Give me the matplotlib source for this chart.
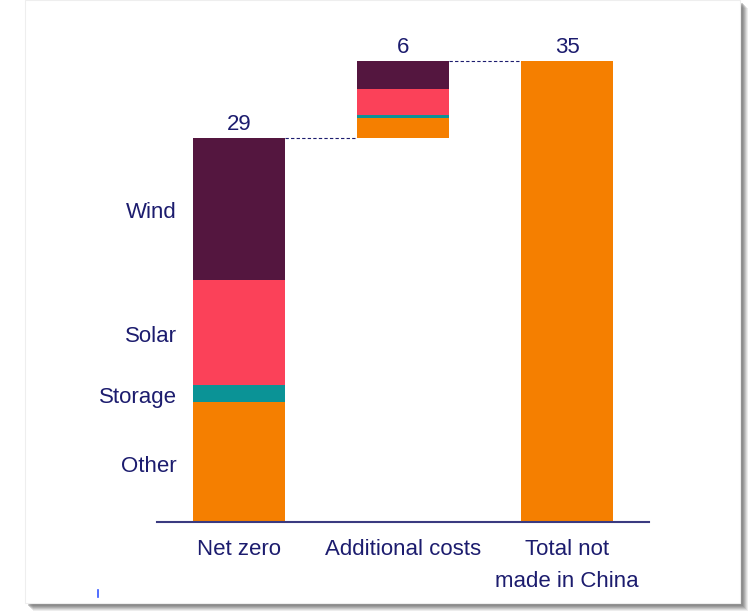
import matplotlib.pyplot as plt
from matplotlib.patches import Rectangle
from matplotlib.lines import Line2D

plt.rcParams['font.family'] = ['Liberation Sans', 'DejaVu Sans']

# Data
categories = ["Net zero", "Additional costs", "Total not\nmade in China"]
components = ["Other", "Storage", "Solar", "Wind"]
net_zero = [9.1, 1.3, 8.0, 10.8]
additional = [1.5, 0.2, 2.0, 2.1]
total_not_china = 35
value_labels = ["29", "6", "35"]

colors = ["#f57f00", "#0b9396", "#fb4159", "#54163f"]
navy = "#1c1c6e"

fig = plt.figure(figsize=(7.48, 6.13), dpi=100)
fig.patch.set_facecolor("white")

# card with a soft shadow
for i, a in enumerate([0.12, 0.15, 0.2, 0.25, 0.3, 0.35]):
    off = (8 - i) / 748
    fig.patches.append(Rectangle((0.0334 + off, 0.0163 - (8 - i) / 613), 0.9556, 0.9837,
                                 transform=fig.transFigure, facecolor="#707070",
                                 alpha=a, edgecolor="none", zorder=-10))
fig.patches.append(Rectangle((0.0334, 0.0163), 0.9556, 0.9837, transform=fig.transFigure,
                             facecolor="white", edgecolor="#eeeeee", lw=0.8, zorder=-5))

ax = fig.add_axes([0.21, 0.1485, 0.658, 0.786])
ax.set_facecolor("none")
w = 0.56

# Net zero stack
bottom = 0
for val, c, name in zip(net_zero, colors, components):
    ax.bar(0, val, w, bottom=bottom, color=c)
    ax.annotate(name, (-w / 2, bottom + val / 2), xytext=(-12, -3), textcoords="offset points",
                ha="right", va="center", fontsize=16, color=navy)
    bottom += val
nz_total = bottom

# Additional costs stack (floating)
bottom = nz_total
for val, c in zip(additional, colors):
    ax.bar(1, val, w, bottom=bottom, color=c)
    bottom += val

# Total
ax.bar(2, total_not_china, w, color=colors[0])

# value labels
tops = [nz_total, nz_total + sum(additional), total_not_china]
for x, t, lab in zip(range(3), tops, value_labels):
    ax.annotate(lab, (x, t), xytext=(0, 2), textcoords="offset points",
                ha="center", va="bottom", fontsize=16, color=navy)

# dashed connectors
ax.plot([w / 2, 1 - w / 2], [nz_total, nz_total], ls=(0, (3, 2)), lw=0.8, color=navy)
ax.plot([1 + w / 2, 2 - w / 2], [tops[1], tops[1]], ls=(0, (3, 2)), lw=0.8, color=navy)

ax.set_xlim(-0.5, 2.5)
ax.set_ylim(0, 36.6)
ax.set_xticks(range(3))
ax.set_xticklabels(categories, fontsize=16, color=navy, linespacing=1.7, va="top")
ax.tick_params(axis="x", length=0, pad=12)
ax.set_yticks([])
for s in ["top", "right", "left"]:
    ax.spines[s].set_visible(False)
ax.spines["bottom"].set_color("#3a3a80")
ax.spines["bottom"].set_linewidth(1.5)

# small stray mark at lower left
fig.add_artist(Line2D([98 / 748, 98 / 748], [1 - 590 / 613, 1 - 597 / 613],
                      transform=fig.transFigure, color="#3355ff", lw=1.2))

fig.savefig("out.png", dpi=100)
